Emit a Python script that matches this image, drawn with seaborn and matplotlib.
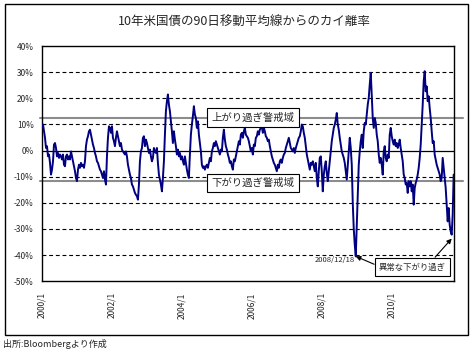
import numpy as np
import pandas as pd
import matplotlib
matplotlib.use("Agg")
import matplotlib.pyplot as plt
import seaborn as sns
from matplotlib.patches import Rectangle

# Deviation (%) of the 10y UST yield from its 90-day moving average,
# read off the picture about every ten days, Jan 2000 - Oct 2011
dev_2000_2002 = [
    9.3, 10.0, 7.4, 4.9, 1.0, 1.7, -2.2, -1.5, -4.7, -9.2, -7.3, -4.1, 2.3, 2.9,
    1.0, -2.2, -0.9, -2.8, -1.5, -2.2, -3.4, -1.5, -5.4, -6.0, -2.2, -1.5, -3.4,
    -2.2, -3.4, -0.3, -2.2, -4.1, -6.0, -7.9, -10.5, -11.7, -7.3, -5.4, -6.6,
    -4.7, -6.0, -5.4, -6.6, -4.1, 1.7, 4.2, 5.5, 7.4, 8.0, 6.1, 4.2, 2.3, 1.0,
    -0.9, -2.2, -4.1, -4.7, -6.0, -7.3, -7.9, -9.2, -10.5, -7.9, -11.1, -13.0,
    -2.2, 4.9, 9.3, 8.7, 6.8, 9.3, 4.9, 3.6, 1.7, 4.9, 7.4, 5.5, 3.6, 1.7, 2.9,
    0.4, -0.3, -0.9, -1.5, -0.3, -2.2, -5.4, -7.3, -9.2, -10.5, -13.0, -13.7,
    -14.9, -16.2, -16.9, -17.5, -18.8, -13.0, -4.1, -0.3, 1.0, 4.9, 5.5]
dev_2003_2005 = [
    1.7, 4.2, 2.9, 1.0, -0.9, 0.4, -2.2, -4.1, -2.8, 1.0, -0.3, -0.9, 1.0, -4.7,
    -9.2, -11.1, -13.0, -15.6, -10.5, -4.1, 6.1, 15.1, 18.9, 21.5, 17.6, 15.1,
    11.2, 7.4, 2.9, 7.4, 4.2, 1.7, -1.5, 0.4, -2.2, -0.9, -3.4, -2.2, -4.1,
    -5.4, -2.2, -4.7, -7.3, -9.2, -10.5, -1.5, 6.1, 10.0, 13.2, 17.0, 13.8,
    12.5, 8.7, 11.2, 6.1, 2.9, -0.3, -5.4, -6.6, -6.0, -7.3, -6.0, -5.4, -6.6,
    -4.7, -2.8, -4.1, -0.3, 1.0, 2.9, 1.7, 3.6, 2.3, 1.0, -0.3, -1.5, 0.4, -0.3,
    4.9, 8.0, 4.2, 1.7, 0.4, -1.5, -2.8, -4.7, -4.1, -6.0, -7.3, -3.4, -4.1,
    -2.2, -0.3, 1.7, 3.6, 2.3, 6.1, 6.8, 4.9, 7.4, 8.7, 6.1, 5.5, 4.9, 3.6]
dev_2006_2008 = [
    1.7, -0.3, 1.0, -1.5, 2.3, 1.7, 4.9, 5.5, 7.4, 6.1, 8.0, 8.7, 9.3, 6.8, 8.7,
    7.4, 5.5, 4.9, 3.6, 4.2, 1.7, -0.3, -2.2, -3.4, -4.7, -5.4, -6.6, -7.9,
    -5.4, -6.6, -4.1, -3.4, -4.7, -2.8, -1.5, -0.9, 1.0, 2.3, 3.6, 4.9, 2.9,
    1.0, 0.4, -0.3, 1.0, -0.9, 1.0, 2.3, 3.6, 4.9, 5.5, 7.4, 10.0, 9.3, 6.8,
    4.9, 1.7, -1.5, -3.4, -5.4, -7.3, -4.7, -5.4, -4.1, -6.0, -7.9, -4.7, -10.5,
    -13.7, -7.9, -2.8, -2.2, -7.9, -15.6, -9.3, -6.0, -4.1, -8.6, -11.7, -7.9,
    -4.1, -0.3, 3.6, 6.1, 8.7, 10.0, 11.9, 14.4, 10.0, 8.0, 4.9, 2.3, -0.3,
    -1.5, -2.8, -4.7, -7.9, -11.1, -5.4, -0.3, 4.9, 1.0, -5.4, -20.0, -30.0]
dev_2009_2011 = [
    -36.0, -40.5, -28.4, -15.6, -5.4, -0.3, 3.6, 6.1, 1.0, 7.4, 10.6, 10.0,
    13.8, 17.6, 20.2, 25.3, 29.8, 21.5, 12.5, 8.7, 12.5, 10.6, 6.1, 3.6, -1.5,
    -4.7, -2.8, -5.4, -9.2, -0.3, 1.7, -2.8, -4.1, -1.5, -2.8, 6.1, 8.7, 5.5,
    3.6, 2.3, 4.2, 1.7, 2.9, 1.0, 2.3, 4.2, 1.0, -1.5, -4.1, -9.2, -10.5, -13.0,
    -12.4, -16.2, -11.7, -13.7, -11.7, -15.6, -13.0, -20.7, -14.3, -12.4, -11.1,
    -9.2, -6.6, -2.8, 2.3, 10.0, 17.6, 26.6, 30.4, 22.7, 24.6, 18.9, 20.8, 16.3,
    12.5, 7.4, 2.9, 3.6, -1.5, -3.4, -5.4, -6.6, -7.9, -9.2, -11.7, -10.5, -2.8,
    -6.6, -10.5, -14.3, -20.7, -27.1, -22.0, -28.4, -30.9, -32.2, -24.5, -9.2]

values = dev_2000_2002 + dev_2003_2005 + dev_2006_2008 + dev_2009_2011
dates = pd.date_range("2000-01-01", "2011-10-08", periods=len(values))
df = pd.DataFrame({"date": dates, "rate": values})

upper_warn = 12.6
lower_warn = -11.8
tick_years = [2000, 2002, 2004, 2006, 2008, 2010]
yticks = [40, 30, 20, 10, 0, -10, -20, -30, -40, -50]
ytick_labels = ["40%", "30%", "20%", "10%", "0%", "-10%", "-20%", "-30%", "-40%", "-50%"]

title = "10年米国債の90日移動平均線からのカイ離率"
source = "出所:Bloombergより作成"

sns.set_style("white")
plt.rcParams["font.family"] = ["Noto Sans CJK JP", "DejaVu Sans"]

fig = plt.figure(figsize=(4.72, 3.55), dpi=100)
ax = fig.add_axes([0.089, 0.208, 0.873, 0.662])

# grid: dashed every 10%, solid zero line
for v in yticks[1:-1]:
    if v == 0:
        ax.axhline(v, color="black", lw=0.9, zorder=1)
    else:
        ax.axhline(v, color="black", lw=0.8, ls=(0, (3.5, 2.5)), zorder=1)

# warning zone lines (run a bit past the plot area)
ytr = ax.get_yaxis_transform()
for lvl in [upper_warn, lower_warn]:
    ax.plot([-0.005, 1.022], [lvl, lvl], transform=ytr, color="#8c8c8c",
            lw=1.5, clip_on=False, zorder=2)

sns.lineplot(data=df, x="date", y="rate", color="#000080", lw=1.4, ax=ax, zorder=3)

ax.set_xlim(pd.Timestamp("2000-01-01"), pd.Timestamp("2011-10-12"))
ax.set_ylim(-50, 40)
ax.set_yticks(yticks)
ax.set_yticklabels(ytick_labels)
ax.set_xticks([pd.Timestamp(year=y, month=1, day=1) for y in tick_years])
ax.set_xticklabels([f"{y}/1" for y in tick_years])
ax.set_xlabel("")
ax.set_ylabel("")
ax.tick_params(axis="y", labelsize=6, length=3, pad=3)
ax.tick_params(axis="x", labelsize=6, length=3, pad=5, labelrotation=90)
for s in ax.spines.values():
    s.set_color("black")
    s.set_linewidth(1.0)

# labels for warning zones
box = dict(boxstyle="square,pad=0.4", fc="white", ec="black", lw=0.8)
ax.text(0.512, upper_warn, "上がり過ぎ警戒域", transform=ytr, ha="center",
        va="center", fontsize=7.5, bbox=box, zorder=5)
ax.text(0.512, lower_warn - 0.6, "下がり過ぎ警戒域", transform=ytr, ha="center",
        va="center", fontsize=7.5, bbox=box, zorder=5)

# extreme lows
i08 = df["rate"].idxmin()
i11 = df.loc[df["date"] >= "2011-01-01", "rate"].idxmin()
ax.text(0.760, -41.8, "2008/12/18", transform=ytr, ha="right", va="center",
        fontsize=5.5, zorder=5)
ax.text(0.899, 0.0596, "異常な下がり過ぎ", transform=ax.transAxes, ha="center",
        va="center", fontsize=6, zorder=5,
        bbox=dict(boxstyle="square,pad=0.5", fc="white", ec="black", lw=0.8))
arrow = dict(arrowstyle="-|>", color="black", lw=0.8, mutation_scale=7,
             shrinkA=0, shrinkB=0)
ax.annotate("", xy=(df.loc[i08, "date"], df.loc[i08, "rate"]), xycoords="data",
            xytext=(0.806, 0.072), textcoords="axes fraction", arrowprops=arrow)
ax.annotate("", xy=(df.loc[i11, "date"], df.loc[i11, "rate"] - 1.5), xycoords="data",
            xytext=(0.954, 0.102), textcoords="axes fraction", arrowprops=arrow)

fig.text(0.517, 0.937, title, ha="center", va="center", fontsize=9)
fig.text(3 / 472, 0.031, source, ha="left", va="center", fontsize=6.5)
fig.patches.append(Rectangle((5 / 472, 1 - 335 / 355), 463 / 472, 331 / 355,
                             transform=fig.transFigure, fill=False,
                             ec="black", lw=1.0))

fig.savefig("out.png", dpi=100)
